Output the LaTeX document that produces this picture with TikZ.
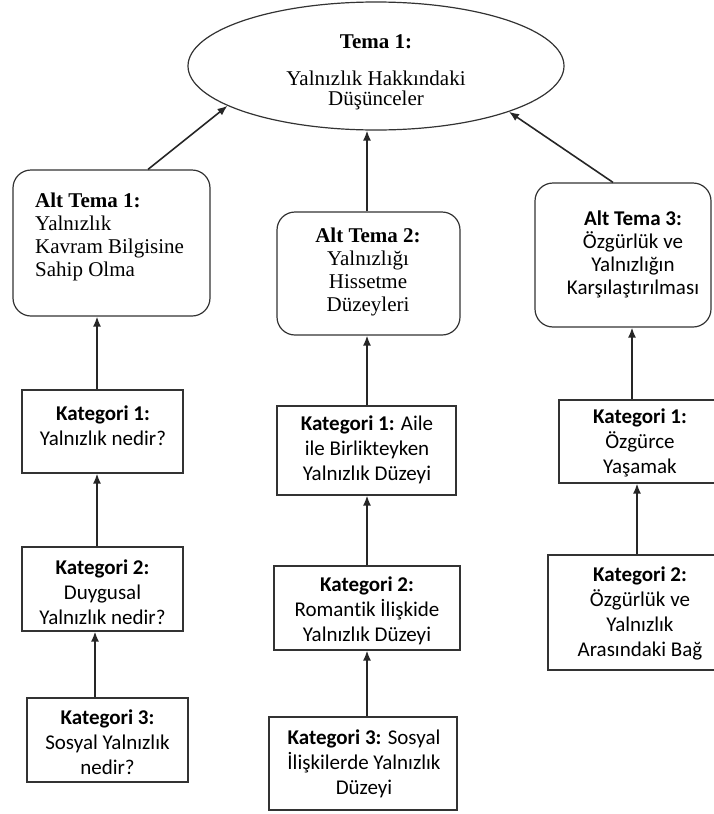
\documentclass[tikz,border=0pt]{standalone}
\usepackage{fontspec}
\setmainfont{Liberation Serif}
\newfontfamily\calibrifont[Ligatures=NoCommon]{Carlito}
\usetikzlibrary{shapes.geometric,arrows.meta,calc}
\tikzset{
 frame/.style={draw=black!80, line width=1.2pt, inner sep=0pt},
 rframe/.style={frame, rounded corners=18pt},
 serif/.style={font=\fontsize{21}{23}\selectfont, align=center, inner sep=0pt},
 sans/.style={font=\calibrifont\fontsize{21}{25}\selectfont, align=center, inner sep=0pt},
 sanstight/.style={font=\calibrifont\fontsize{21}{23}\selectfont, align=center, inner sep=0pt},
 arr/.style={draw=black!85, line width=1.6pt, -{Latex[length=10pt,width=8pt]}},
}
\begin{document}
\begin{tikzpicture}[x=1pt,y=-1pt]
\useasboundingbox (0,0) rectangle (713,814);

% Theme ellipse
\node[frame, ellipse, minimum width=376pt, minimum height=128pt] (tema) at (376,66) {};
\node[serif] (temat) at (376,42) {\textbf{Tema 1:}};
\node[serif, font=\fontsize{21}{20}\selectfont] (temab) at (376,90) {Yalnızlık Hakkındaki\\Düşünceler};

% Sub-themes
\node[rframe, minimum width=197pt, minimum height=146pt] (at1) at (111.5,243) {};
\node[serif, align=left, anchor=west] (at1t) at (35,237) {\textbf{Alt Tema 1:}\\Yalnızlık\\Kavram Bilgisine\\Sahip Olma};

\node[rframe, minimum width=183pt, minimum height=123pt] (at2) at (368.5,273.5) {};
\node[serif] (at2t) at (368,272) {\textbf{Alt Tema 2:}\\Yalnızlığı\\Hissetme\\Düzeyleri};

\node[rframe, minimum width=176pt, minimum height=144pt] (at3) at (623,255) {};
\node[sanstight] (at3t) at (633,254) {\textbf{Alt Tema 3:}\\Özgürlük ve\\Yalnızlığın\\Karşılaştırılması};

% Left column categories
\node[frame, minimum width=161pt, minimum height=83pt] (lk1) at (102.5,431.5) {};
\node[sans] (lk1t) at (103,425.5) {\textbf{Kategori 1:}\\Yalnızlık nedir?};

\node[frame, minimum width=161pt, minimum height=84pt] (lk2) at (102.5,589) {};
\node[sans] (lk2t) at (102.5,592) {\textbf{Kategori 2:}\\Duygusal\\Yalnızlık nedir?};

\node[frame, minimum width=161pt, minimum height=84pt] (lk3) at (107.5,740) {};
\node[sans] (lk3t) at (107.5,742) {\textbf{Kategori 3:}\\Sosyal Yalnızlık\\nedir?};

% Middle column categories
\node[frame, minimum width=179pt, minimum height=89pt] (mk1) at (366.5,450.5) {};
\node[sans] (mk1t) at (367,450) {\textbf{Kategori 1:} Aile\\ile Birlikteyken\\Yalnızlık Düzeyi};

\node[frame, minimum width=186pt, minimum height=84pt] (mk2) at (367,608) {};
\node[sans] (mk2t) at (367,611) {\textbf{Kategori 2:}\\Romantik İlişkide\\Yalnızlık Düzeyi};

\node[frame, minimum width=188pt, minimum height=93pt] (mk3) at (363,763.5) {};
\node[sans] (mk3t) at (364,764) {\textbf{Kategori 3:} Sosyal\\İlişkilerde Yalnızlık\\Düzeyi};

% Right column categories
\node[frame, minimum width=162pt, minimum height=83pt] (rk1) at (640,441.5) {};
\node[sans] (rk1t) at (640,443) {\textbf{Kategori 1:}\\Özgürce\\Yaşamak};

\node[frame, minimum width=184pt, minimum height=115pt] (rk2) at (640,612.5) {};
\node[sans] (rk2t) at (640,613.5) {\textbf{Kategori 2:}\\Özgürlük ve\\Yalnızlık\\Arasındaki Bağ};

% Connectors
\draw[arr] ([xshift=36.5pt]at1.north) -- (tema.195);
\draw[arr] ([xshift=-1.5pt]at2.north) -- ([xshift=-1.5pt]at2.north |- tema.south);
\draw[arr] ([xshift=-10pt]at3.north) -- (tema.341);

\draw[arr] ([xshift=-5.5pt]lk1.north) -- ([xshift=-5.5pt]lk1.north |- at1.south);
\draw[arr] ([xshift=-5.5pt]lk2.north) -- ([xshift=-5.5pt]lk2.north |- lk1.south);
\draw[arr] ([xshift=-12.5pt]lk3.north) -- ([xshift=-12.5pt]lk3.north |- lk2.south);

\draw[arr] ([xshift=0.5pt]mk1.north) -- ([xshift=0.5pt]mk1.north |- at2.south);
\draw[arr] (mk2.north) -- (mk2.north |- mk1.south);
\draw[arr] ([xshift=4pt]mk3.north) -- ([xshift=4pt]mk3.north |- mk2.south);

\draw[arr] ([xshift=-8pt]rk1.north) -- ([xshift=-8pt]rk1.north |- at3.south);
\draw[arr] ([xshift=-3pt]rk2.north) -- ([xshift=-3pt]rk2.north |- rk1.south);
\end{tikzpicture}
\end{document}
